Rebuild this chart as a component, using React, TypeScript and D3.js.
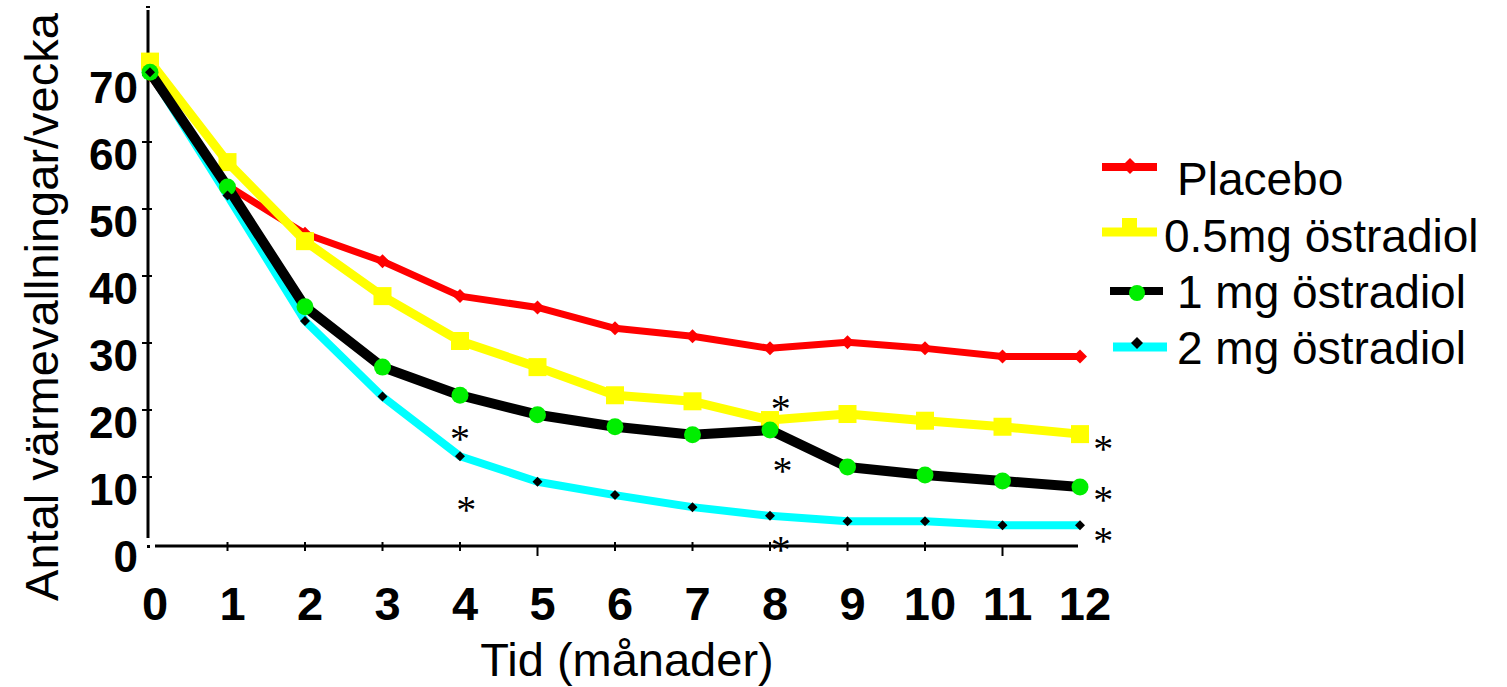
import React from "react";
import * as d3 from "d3";

const months = [0, 1, 2, 3, 4, 5, 6, 7, 8, 9, 10, 11, 12];
const placebo = [70, 53.5, 46.3, 42.2, 37, 35.3, 32.2, 31, 29.2, 30.1, 29.2, 28, 28];
const mg05 = [72, 57, 45.2, 37, 30.3, 26.4, 22.2, 21.3, 18.5, 19.4, 18.4, 17.5, 16.4];
const mg1 = [70.4, 53.3, 35.4, 26.4, 22.2, 19.3, 17.5, 16.3, 17, 11.5, 10.3, 9.4, 8.5];
const mg2 = [70.4, 52, 33.3, 22, 13.1, 9.3, 7.3, 5.5, 4.2, 3.4, 3.4, 2.8, 2.8];
const yTicks = [0, 10, 20, 30, 40, 50, 60, 70];
const legendLabels = ["Placebo", "0.5mg östradiol", "1 mg östradiol", "2 mg östradiol"];
// asterisks: [month, value]
const stars = [
  [4, 16.5], [4.08, 6], [8.14, 21], [8.16, 11.8], [8.14, 0], [12.3, 15.1], [12.3, 7.5], [12.3, 1.3],
];

const W = 1507;
const H = 687;
const sans = "'Liberation Sans', Arial, sans-serif";
const serif = "'Liberation Serif', 'Times New Roman', serif";

export default function App() {
  const x = d3.scaleLinear().domain([0, 12]).range([150, 1080]);
  const y = d3.scaleLinear().domain([0, 70]).range([544, 75]);
  const line = d3
    .line<number>()
    .x((_, i) => x(months[i]))
    .y((d) => y(d));

  const diamond = (cx: number, cy: number, r: number) =>
    `M${cx},${cy - r}L${cx + r},${cy}L${cx},${cy + r}L${cx - r},${cy}Z`;

  const starSize = 40;

  return (
    <svg width={W} height={H} style={{ position: "absolute", left: 0, top: 0, background: "#fff" }}>
      <rect width={W} height={H} fill="#fff" />
      {/* y axis */}
      <line x1={148} x2={148} y1={10} y2={538} stroke="#000" strokeWidth={3} />
      <line x1={146} x2={150} y1={7} y2={7} stroke="#000" strokeWidth={2} />
      <rect x={147} y={545} width={3} height={3} fill="#000" />
      {yTicks.map((t) => (
        <g key={t}>
          {t > 0 && <line x1={142} x2={152} y1={y(t)} y2={y(t)} stroke="#000" strokeWidth={2} />}
          <text
            x={138}
            y={y(t) + 28}
            textAnchor="end"
            fontFamily={sans}
            fontWeight="bold"
            fontSize={44}
          >
            {t}
          </text>
        </g>
      ))}
      {/* x axis */}
      <line x1={155} x2={1078} y1={546} y2={546} stroke="#000" strokeWidth={3} />
      {months.map((m) => (
        <g key={m}>
          {m > 0 && m < 12 && (
            <line
              x1={x(m)}
              x2={x(m)}
              y1={m === 5 || m === 11 ? 546 : 542}
              y2={m === 5 || m === 11 ? 556 : 551}
              stroke="#000"
              strokeWidth={2}
            />
          )}
          <text x={x(m) + 5} y={620} textAnchor="middle" fontFamily={sans} fontWeight="bold" fontSize={47}>
            {m}
          </text>
        </g>
      ))}
      <text x={627} y={676} textAnchor="middle" fontFamily={sans} fontSize={47}>
        Tid (månader)
      </text>
      <text
        transform="translate(58,307) rotate(-90)"
        textAnchor="middle"
        fontFamily={sans}
        fontSize={47}
      >
        Antal värmevallningar/vecka
      </text>

      {/* Placebo */}
      <path d={line(placebo) || ""} fill="none" stroke="#ff0000" strokeWidth={7} strokeLinejoin="round" />
      {placebo.map((v, i) => (
        <path key={i} d={diamond(x(months[i]), y(v), 7)} fill="#ff0000" />
      ))}
      {/* 0.5 mg */}
      <path d={line(mg05) || ""} fill="none" stroke="#ffff00" strokeWidth={9} strokeLinejoin="round" />
      {mg05.map((v, i) => (
        <rect key={i} x={x(months[i]) - 9} y={y(v) - 9} width={18} height={18} fill="#ffff00" />
      ))}
      {/* 2 mg line */}
      <path d={line(mg2) || ""} fill="none" stroke="#00ffff" strokeWidth={8} strokeLinejoin="round" />
      {/* 1 mg */}
      <path d={line(mg1) || ""} fill="none" stroke="#000" strokeWidth={10} strokeLinejoin="round" />
      {mg1.map((v, i) => (
        <circle key={i} cx={x(months[i])} cy={y(v)} r={8.5} fill="#00ee00" />
      ))}
      {/* 2 mg markers */}
      {mg2.map((v, i) => (
        <path key={i} d={diamond(x(months[i]), y(v), 5)} fill="#000" />
      ))}

      {/* asterisks */}
      {stars.map(([m, v], i) => (
        <text
          key={i}
          x={x(m)}
          y={y(v) + starSize * 0.47}
          textAnchor="middle"
          fontFamily={serif}
          fontSize={starSize}
        >
          *
        </text>
      ))}

      {/* legend */}
      <line x1={1102} x2={1157} y1={167} y2={167} stroke="#ff0000" strokeWidth={8} />
      <path d={diamond(1130, 166, 8)} fill="#ff0000" />
      <text x={1177} y={195} fontFamily={sans} fontSize={46}>
        {legendLabels[0]}
      </text>
      <line x1={1102} x2={1157} y1={232} y2={232} stroke="#ffff00" strokeWidth={9} />
      <rect x={1122} y={218} width={15} height={14} fill="#ffff00" />
      <text x={1164} y={252} fontFamily={sans} fontSize={46}>
        {legendLabels[1]}
      </text>
      <line x1={1110} x2={1163} y1={291} y2={291} stroke="#000" strokeWidth={8} />
      <circle cx={1137} cy={293} r={8} fill="#00ee00" />
      <text x={1177} y={308} fontFamily={sans} fontSize={46}>
        {legendLabels[2]}
      </text>
      <line x1={1113} x2={1167} y1={347} y2={347} stroke="#00ffff" strokeWidth={9} />
      <path d={diamond(1137, 343, 6)} fill="#000" />
      <text x={1177} y={364} fontFamily={sans} fontSize={46}>
        {legendLabels[3]}
      </text>
    </svg>
  );
}
